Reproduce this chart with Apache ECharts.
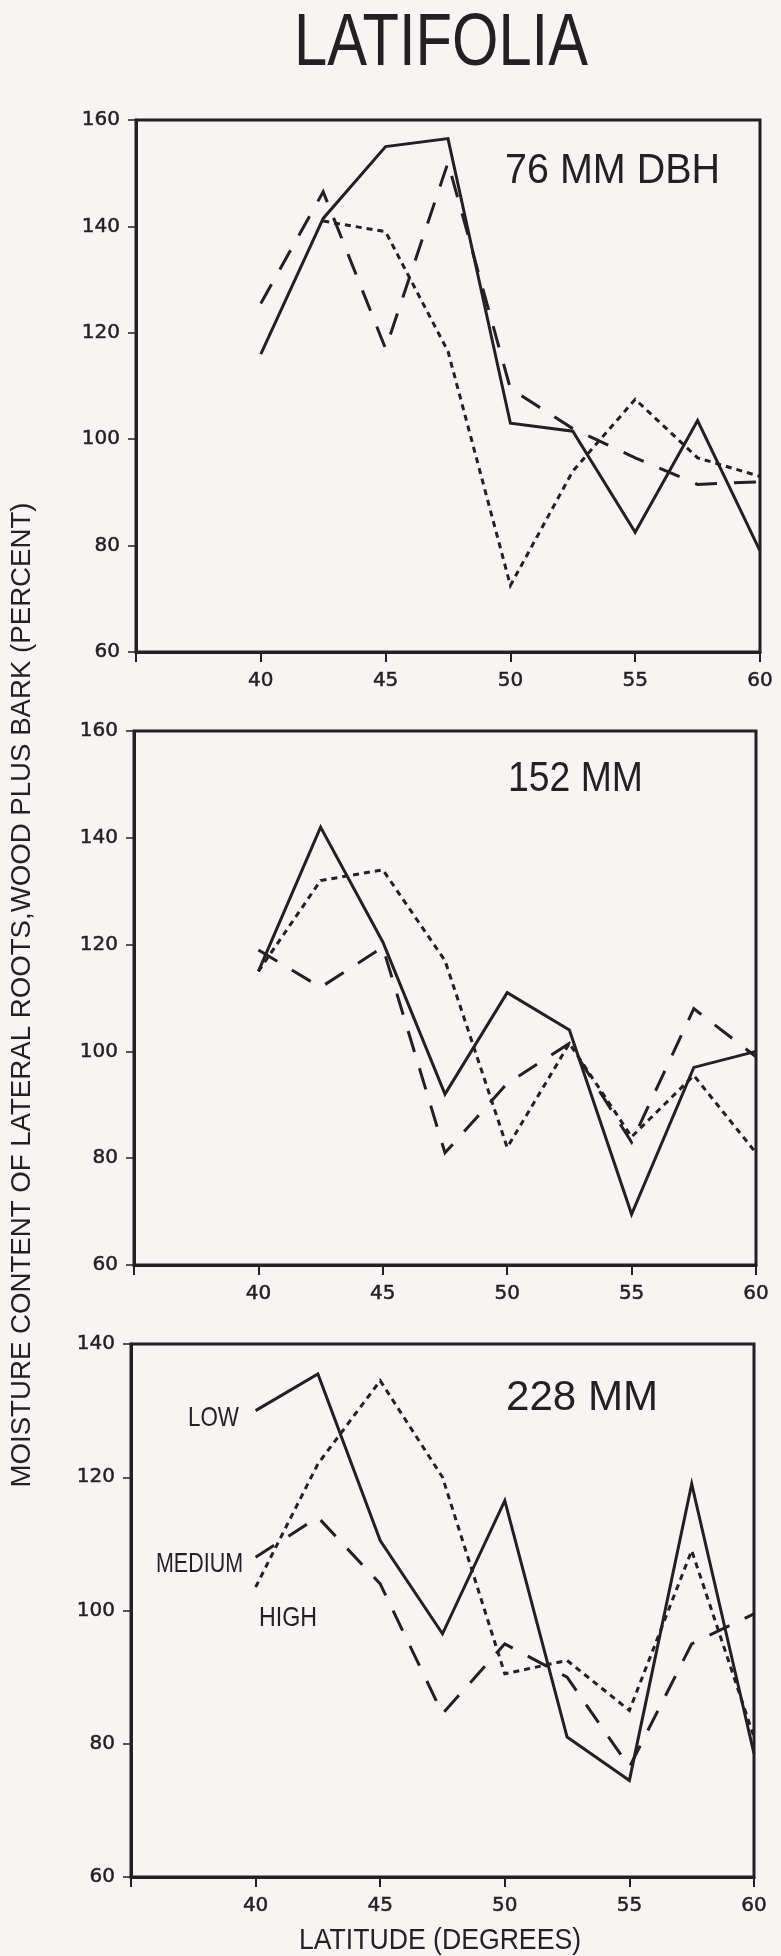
<!DOCTYPE html>
<html>
<head>
<meta charset="utf-8">
<script src="https://cdn.jsdelivr.net/npm/echarts/dist/echarts.min.js"></script>
<style>
  html, body { margin: 0; padding: 0; background: #f7f4f4; }
  #chart { width: 781px; height: 1956px; }
</style>
</head>
<body>
<div id="chart"></div>
<script>
// Latitude (degrees) of each sampling point
const latitudes = [40, 42.5, 45, 47.5, 50, 52.5, 55, 57.5, 60];

// Moisture content (percent) by stem diameter class and site class
const low76 = [116, 141.5, 155, 156.5, 103, 101.5, 82.5, 103.5, 79];
const medium76 = [125.5, 146.5, 117, 152, 109.5, 102, 96.5, 91.5, 92];
const high76 = [null, 141, 139, 116.5, 72.5, 94, 107.5, 96.5, 93];

const low152 = [115, 142, 120.5, 92, 111, 104, 69.5, 97, 100];
const medium152 = [119, 112, 119.5, 81, 94, 101.5, 83, 108, 99];
const high152 = [115, 132, 134, 117, 82, 101.5, 84, 95.5, 81];

const low228 = [130, 135.5, 110.5, 96.5, 116.5, 81, 74.5, 119, 78.5];
const medium228 = [108, 114, 104, 84.5, 95, 90, 76.5, 95, 99.5];
const high228 = [103.5, 122, 134.5, 120, 90.5, 92.5, 85, 109, 81];

// Axis ranges and labels
const xRange = [35, 60];
const xTickLabels = [40, 45, 50, 55, 60];
const yRange76 = [60, 160];
const yRange152 = [60, 160];
const yRange228 = [60, 140];
const panelLabels = ['76 MM DBH', '152 MM', '228 MM'];
const seriesNames = ['LOW', 'MEDIUM', 'HIGH'];

const INK = '#241f21';
const TICK_FONT = 'DejaVu Sans';

const measureCtx = document.createElement('canvas').getContext('2d');
function fitScale(text, font, width) {
  measureCtx.font = font;
  return width / measureCtx.measureText(text).width;
}

function textEl(text, x, y, size, width, align, rotation) {
  const font = size + 'px "Liberation Sans"';
  return {
    type: 'text', x: x, y: y, rotation: rotation || 0,
    scaleX: fitScale(text, font, width), scaleY: 1, silent: true,
    style: {
      text: text, font: font, fill: INK,
      align: align, verticalAlign: 'middle',
      textAlign: align, textVerticalAlign: 'middle'
    }
  };
}

const panels = [
  { grid: { left: 136, top: 120, width: 624, height: 532 }, y: yRange76, data: [low76, medium76, high76] },
  { grid: { left: 134, top: 731, width: 622, height: 534 }, y: yRange152, data: [low152, medium152, high152] },
  { grid: { left: 131, top: 1344, width: 623, height: 533 }, y: yRange228, data: [low228, medium228, high228] }
];

const lineStyles = [
  { color: INK, width: 3, type: 'solid', join: 'miter' },
  { color: INK, width: 3, type: [22, 17], join: 'miter' },
  { color: INK, width: 3, type: [6, 5], join: 'miter' }
];

const tickLabelStyle = {
  color: INK, fontSize: 20, fontFamily: TICK_FONT,
  textBorderColor: INK, textBorderWidth: 0.5
};

const grids = [], xAxes = [], yAxes = [], series = [];
panels.forEach((p, i) => {
  grids.push(Object.assign({ show: true, borderColor: INK, borderWidth: 3, backgroundColor: 'transparent' }, p.grid));
  xAxes.push({
    type: 'value', gridIndex: i, min: xRange[0], max: xRange[1], interval: 5,
    axisLine: { show: true, onZero: false, lineStyle: { color: INK, width: 3 } },
    axisTick: { show: true, length: 10, lineStyle: { color: INK, width: 2 } },
    axisLabel: Object.assign({
      show: true, showMinLabel: true, showMaxLabel: true, margin: 19,
      formatter: v => (xTickLabels.indexOf(v) >= 0 ? String(v) : '')
    }, tickLabelStyle),
    splitLine: { show: false }
  });
  yAxes.push({
    type: 'value', gridIndex: i, min: p.y[0], max: p.y[1], interval: 20,
    axisLine: { show: true, onZero: false, lineStyle: { color: INK, width: 3 } },
    axisTick: { show: true, length: 8, lineStyle: { color: INK, width: 1.5 } },
    axisLabel: Object.assign({ show: true, margin: 16 }, tickLabelStyle),
    splitLine: { show: false }
  });
  p.data.forEach((values, k) => {
    series.push({
      type: 'line', name: seriesNames[k] + ' ' + panelLabels[i],
      xAxisIndex: i, yAxisIndex: i, symbol: 'none', silent: true,
      lineStyle: lineStyles[k],
      data: latitudes.map((lat, j) => [lat, values[j]]).filter(pt => pt[1] !== null)
    });
  });
});

const graphics = [
  textEl('LATIFOLIA', 441, 44, 75, 294, 'center'),
  textEl(panelLabels[0], 505, 171, 42, 215, 'left'),
  textEl(panelLabels[1], 508, 779, 42, 135, 'left'),
  textEl(panelLabels[2], 506, 1398, 42, 152, 'left'),
  textEl(seriesNames[0], 188, 1418, 28, 51, 'left'),
  textEl(seriesNames[1], 156, 1564, 28, 87, 'left'),
  textEl(seriesNames[2], 259, 1618, 28, 58, 'left'),
  textEl('LATITUDE (DEGREES)', 440, 1941, 30, 282, 'center'),
  textEl('MOISTURE CONTENT OF LATERAL ROOTS,WOOD PLUS BARK (PERCENT)', 23, 995, 27, 985, 'center', Math.PI / 2)
];

const chart = echarts.init(document.getElementById('chart'), null, { renderer: 'canvas' });
chart.setOption({
  backgroundColor: '#f7f4f4',
  animation: false,
  grid: grids,
  xAxis: xAxes,
  yAxis: yAxes,
  series: series,
  graphic: { elements: graphics }
});
</script>
</body>
</html>
